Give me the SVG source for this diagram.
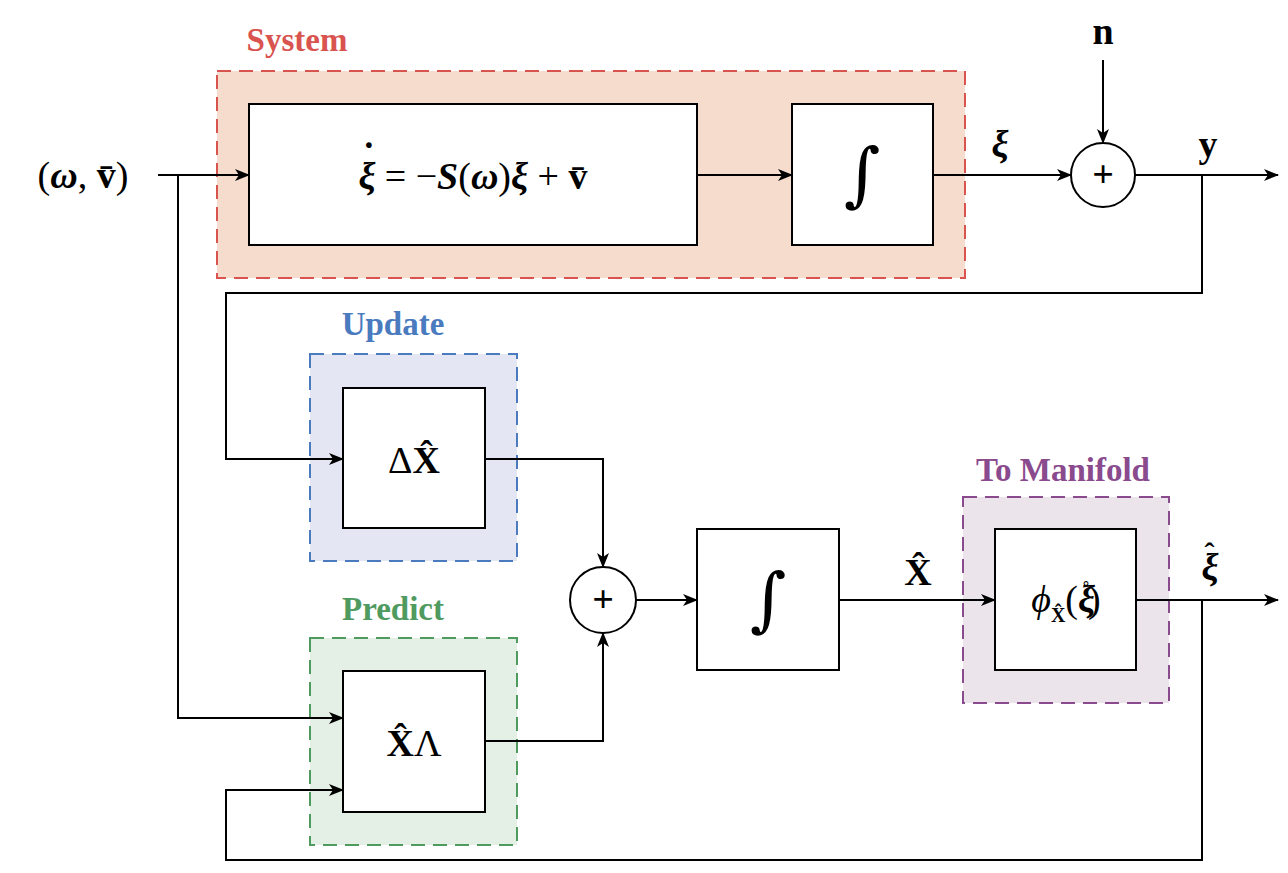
<svg xmlns="http://www.w3.org/2000/svg" width="1288" height="873" viewBox="0 0 1288 873">
<style>
.b{fill:#fff;stroke:#000;stroke-width:2}
.w{fill:none;stroke:#000;stroke-width:2}
.m{font-family:"Liberation Serif",serif;font-size:38px;text-anchor:middle;fill:#000}
.i{font-family:"DejaVu Serif",serif;font-size:70px;font-style:italic;text-anchor:middle}
.lab{font-family:"Liberation Serif",serif;font-size:33px;font-weight:bold;text-anchor:middle}
.d{stroke-width:2;stroke-dasharray:14 8}
</style>
<defs>
<marker id="a" markerWidth="16" markerHeight="12" refX="14" refY="6" orient="auto" markerUnits="userSpaceOnUse">
<path d="M0,0 L15,6 L0,12 L4,6 Z" fill="#000"/>
</marker>
</defs>
<rect width="1288" height="873" fill="#fff"/>
<g id="system"><rect x="217" y="71" width="748" height="207" fill="#f5dccd" stroke="#d9534f" class="d"/><text x="297" y="51" class="lab" fill="#d9534f">System</text></g>
<g id="update"><rect x="310" y="354" width="207" height="207" fill="#e4e7f3" stroke="#4a7bbf" class="d"/><text x="393" y="335" class="lab" fill="#4a7bbf">Update</text></g>
<g id="predict"><rect x="310" y="638" width="207" height="207" fill="#e4efe6" stroke="#4f9a5f" class="d"/><text x="393" y="620" class="lab" fill="#4f9a5f">Predict</text></g>
<g id="manifold"><rect x="963" y="497" width="206" height="206" fill="#ebe4ea" stroke="#8a4a8e" class="d"/><text x="1063" y="481" class="lab" fill="#8a4a8e">To Manifold</text></g>
<g id="dyn"><rect x="249" y="104" width="448" height="141" class="b"/><text x="473" y="189" class="m"><tspan font-weight="bold" font-style="italic">ξ</tspan><tspan font-weight="bold" dx="-13" dy="-20">˙</tspan><tspan dx="0" dy="20"> = −</tspan><tspan font-weight="bold" font-style="italic">S</tspan>(<tspan font-weight="bold" font-style="italic">ω</tspan>)<tspan font-weight="bold" font-style="italic">ξ</tspan> + <tspan font-weight="bold">v̄</tspan></text></g>
<g id="int1"><rect x="792" y="104" width="141" height="141" class="b"/><text x="862" y="198" class="i">∫</text></g>
<g id="sum1"><circle cx="1103" cy="175" r="32" class="b"/><text x="1103" y="187" class="m" font-family="Liberation Sans,sans-serif" font-weight="bold" font-size="32">+</text></g>
<g id="dx"><rect x="343" y="388" width="142" height="140" class="b"/><text x="414" y="473" class="m">Δ<tspan font-weight="bold">X̂</tspan></text></g>
<g id="xl"><rect x="343" y="671" width="142" height="141" class="b"/><text x="414" y="756" class="m"><tspan font-weight="bold">X̂</tspan>Λ</text></g>
<g id="sum2"><circle cx="603" cy="600" r="33" class="b"/><text x="603" y="612" class="m" font-family="Liberation Sans,sans-serif" font-weight="bold" font-size="32">+</text></g>
<g id="int2"><rect x="697" y="529" width="142" height="141" class="b"/><text x="768" y="623" class="i">∫</text></g>
<g id="phi"><rect x="995" y="529" width="141" height="141" class="b"/><text x="1066" y="612" class="m" font-size="32"><tspan font-style="italic">ϕ</tspan><tspan font-size="20" font-weight="bold" dy="10">X̂</tspan><tspan dy="-10">(</tspan><tspan font-weight="bold" font-style="italic">ξ</tspan><tspan font-size="24" dx="-13" dy="-14">˚</tspan><tspan dx="-2" dy="14">)</tspan></text></g>
<g id="labels">
<text x="83" y="188" class="m">(<tspan font-weight="bold" font-style="italic">ω</tspan>, <tspan font-weight="bold">v̄</tspan>)</text>
<text x="1000" y="157" class="m" font-weight="bold" font-style="italic">ξ</text>
<text x="1103" y="44" class="m" font-weight="bold">n</text>
<text x="1208" y="157" class="m" font-weight="bold">y</text>
<text x="918" y="585" class="m" font-weight="bold">X̂</text>
<text x="1210" y="580" class="m" font-weight="bold"><tspan font-style="italic">ξ</tspan><tspan font-size="30" dx="-14" dy="-17">ˆ</tspan></text>
</g>
<g id="connectors" class="w">
<path d="M158,175 H249" marker-end="url(#a)"/>
<path d="M178,175 V718 H343" marker-end="url(#a)"/>
<path d="M697,175 H792" marker-end="url(#a)"/>
<path d="M933,175 H1071" marker-end="url(#a)"/>
<path d="M1103,60 V143" marker-end="url(#a)"/>
<path d="M1135,175 H1278" marker-end="url(#a)"/>
<path d="M1202,175 V293 H226 V459 H343" marker-end="url(#a)"/>
<path d="M485,459 H603 V567" marker-end="url(#a)"/>
<path d="M485,741 H603 V633" marker-end="url(#a)"/>
<path d="M636,600 H697" marker-end="url(#a)"/>
<path d="M839,600 H995" marker-end="url(#a)"/>
<path d="M1136,600 H1278" marker-end="url(#a)"/>
<path d="M1202,600 V860 H226 V790 H343" marker-end="url(#a)"/>
</g>
</svg>
